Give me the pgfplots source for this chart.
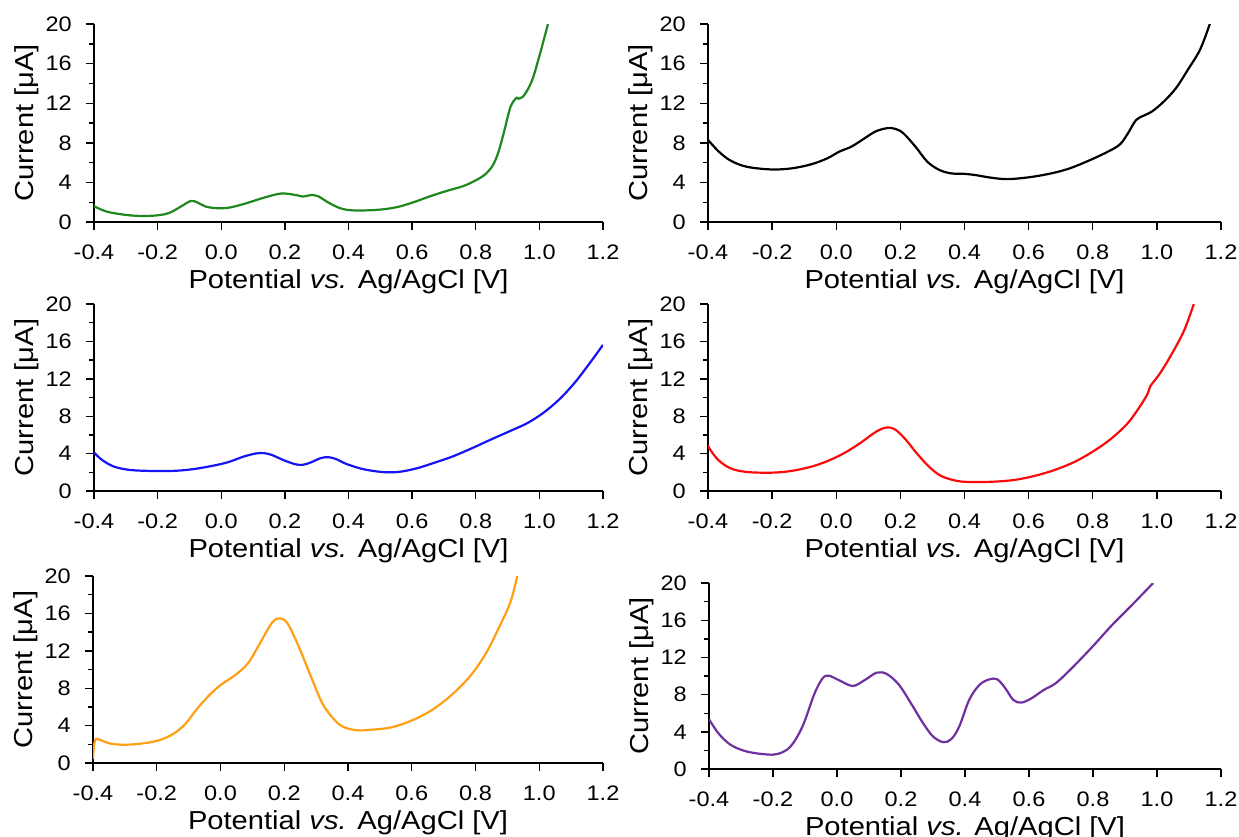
\documentclass[border=0pt]{standalone}
\usepackage{fontspec}
\setmainfont{Liberation Sans}[FakeStretch=1.12]
\usepackage{pgfplots}
\pgfplotsset{compat=1.18}
\definecolor{cgreen}{RGB}{30,135,30}
\definecolor{cblue}{RGB}{20,20,245}
\definecolor{cred}{RGB}{250,10,10}
\definecolor{corange}{RGB}{255,160,20}
\definecolor{cpurple}{RGB}{112,48,160}
\pgfplotsset{
  cv/.style={
    scale only axis,
    axis lines*=left,
    xmin=-0.4, xmax=1.2, ymin=0, ymax=20,
    xtick={-0.4,-0.2,0,0.2,0.4,0.6,0.8,1.0,1.2},
    xticklabels={-0.4,-0.2,0.0,0.2,0.4,0.6,0.8,1.0,1.2},
    ytick={0,4,8,12,16,20},
    yticklabels={0,4,8,12,16,20},
    minor y tick num=1,
    tick align=outside,
    major tick length=8pt,
    minor tick length=5pt,
    xtick style={draw=black, line width=1.4pt},
    ytick style={draw=black, line width=1.4pt},
    minor tick style={draw=black, line width=1.2pt},
    axis line style={line width=1.6pt},
    tick label style={font=\fontsize{21}{22}\selectfont},
    xticklabel style={inner sep=0pt, anchor=north, yshift=-15pt},
    yticklabel style={inner sep=0pt, anchor=east, xshift=-14pt},
    label style={font=\fontsize{26}{28}\selectfont},
    xlabel={Potential \textit{vs.} Ag/AgCl [V]},
    ylabel={Current [μA]},
    x label style={at={(axis description cs:0.5,0)}, anchor=center, yshift=-60pt},
    y label style={at={(axis description cs:0,0.5)}, anchor=center, rotate=0, yshift=67pt},
  },
  cl/.style={line width=2.2pt, smooth, tension=0.55, no marks},
}
\begin{document}
\begin{tikzpicture}
\useasboundingbox (0,0) rectangle (1239pt,-836pt);
% Row 1 left (green)
\begin{axis}[cv, at={(94pt,-222pt)}, anchor=south west, width=509pt, height=198pt]
\addplot[cl, cgreen] coordinates {
(-0.4,1.6) (-0.36,1.05) (-0.298,0.71) (-0.248,0.61) (-0.198,0.68) (-0.161,0.95)
(-0.124,1.62) (-0.095,2.13) (-0.074,1.96) (-0.049,1.56) (-0.012,1.39) (0.026,1.46)
(0.075,1.86) (0.125,2.37) (0.175,2.81) (0.2,2.88) (0.237,2.71) (0.256,2.57)
(0.287,2.74) (0.305,2.6) (0.337,1.96) (0.374,1.39) (0.411,1.18) (0.461,1.18)
(0.511,1.29) (0.56,1.56) (0.61,2.06) (0.66,2.64) (0.71,3.15) (0.76,3.62)
(0.797,4.16) (0.828,4.77) (0.853,5.69) (0.871,7.04) (0.89,9.24) (0.909,11.6)
(0.928,12.55) (0.934,12.45) (0.952,12.8) (0.977,14.3) (1.002,17.0) (1.027,20.0)
};
\end{axis}
% Row 1 right (black)
\begin{axis}[cv, at={(708pt,-222pt)}, anchor=south west, width=513pt, height=198pt]
\addplot[cl, black] coordinates {
(-0.4,8.29) (-0.366,7.1) (-0.329,6.19) (-0.279,5.58) (-0.204,5.31) (-0.141,5.41)
(-0.079,5.82) (-0.028,6.43) (0.009,7.1) (0.047,7.61) (0.084,8.36) (0.122,9.14)
(0.159,9.48) (0.184,9.41) (0.209,8.97) (0.247,7.61) (0.284,6.09) (0.322,5.25)
(0.359,4.91) (0.397,4.87) (0.434,4.74) (0.484,4.47) (0.534,4.33) (0.597,4.5)
(0.66,4.84) (0.722,5.35) (0.785,6.16) (0.847,7.1) (0.885,7.85) (0.91,8.97)
(0.935,10.3) (0.96,10.76) (0.985,11.17) (1.022,12.18) (1.06,13.54) (1.097,15.4)
(1.135,17.43) (1.165,20)
};
\end{axis}
% Row 2 left (blue)
\begin{axis}[cv, at={(94pt,-491pt)}, anchor=south west, width=509pt, height=187pt]
\addplot[cl, cblue] coordinates {
(-0.4,4.12) (-0.375,3.33) (-0.338,2.62) (-0.289,2.26) (-0.227,2.15) (-0.152,2.15)
(-0.09,2.33) (-0.028,2.69) (0.021,3.08) (0.071,3.69) (0.108,4.01) (0.133,4.05)
(0.158,3.87) (0.194,3.33) (0.232,2.87) (0.256,2.8) (0.281,3.05) (0.312,3.51)
(0.337,3.62) (0.362,3.4) (0.393,2.9) (0.442,2.37) (0.492,2.08) (0.529,2.0)
(0.566,2.08) (0.616,2.44) (0.665,2.97) (0.727,3.69) (0.789,4.59) (0.851,5.56)
(0.913,6.49) (0.963,7.28) (1.012,8.35) (1.062,9.78) (1.111,11.58) (1.161,13.8)
(1.2,15.63)
};
\end{axis}
% Row 2 right (red)
\begin{axis}[cv, at={(708pt,-491pt)}, anchor=south west, width=513pt, height=187pt]
\addplot[cl, cred] coordinates {
(-0.4,4.93) (-0.396,4.57) (-0.368,3.32) (-0.33,2.43) (-0.28,2.04) (-0.204,1.96)
(-0.141,2.14) (-0.077,2.61) (-0.027,3.21) (0.024,4.04) (0.074,5.11) (0.125,6.36)
(0.157,6.79) (0.182,6.61) (0.213,5.64) (0.251,4.04) (0.289,2.61) (0.327,1.61)
(0.378,1.07) (0.428,0.96) (0.492,1.0) (0.555,1.18) (0.618,1.61) (0.681,2.25)
(0.745,3.14) (0.808,4.39) (0.859,5.64) (0.909,7.25) (0.947,9.04) (0.972,10.46)
(0.979,11.18) (1.01,12.6) (1.048,14.75) (1.086,17.25) (1.115,20)
};
\end{axis}
% Row 3 left (orange)
\begin{axis}[cv, at={(93pt,-763pt)}, anchor=south west, width=510pt, height=187pt]
\addplot[cl, corange] coordinates {
(-0.4,0.43) (-0.397,1.85) (-0.391,2.56) (-0.379,2.49) (-0.348,2.1) (-0.31,1.96)
(-0.261,2.03) (-0.198,2.38) (-0.149,3.1) (-0.111,4.16) (-0.074,5.77) (-0.037,7.19)
(0.0,8.33) (0.05,9.5) (0.088,10.75) (0.125,12.88) (0.162,15.02) (0.187,15.48)
(0.212,14.84) (0.249,12.17) (0.287,8.97) (0.324,6.12) (0.374,4.09) (0.424,3.52)
(0.473,3.56) (0.536,3.81) (0.598,4.52) (0.66,5.59) (0.722,7.19) (0.784,9.32)
(0.834,11.81) (0.871,14.31) (0.909,17.15) (0.931,20)
};
\end{axis}
% Row 3 right (purple)
\begin{axis}[cv, at={(709pt,-769pt)}, anchor=south west, width=512pt, height=186pt]
\addplot[cl, cpurple] coordinates {
(-0.4,5.36) (-0.371,3.86) (-0.333,2.61) (-0.283,1.89) (-0.221,1.57) (-0.183,1.64)
(-0.145,2.43) (-0.108,4.57) (-0.07,8.14) (-0.045,9.75) (-0.026,10.04) (0.005,9.57)
(0.049,8.93) (0.087,9.57) (0.124,10.36) (0.156,10.21) (0.194,9.04) (0.231,7.07)
(0.269,4.93) (0.3,3.5) (0.332,2.89) (0.357,3.21) (0.382,4.57) (0.413,7.43)
(0.445,9.04) (0.476,9.64) (0.501,9.64) (0.526,8.68) (0.551,7.43) (0.576,7.14)
(0.608,7.61) (0.646,8.5) (0.683,9.21) (0.733,10.82) (0.796,13.07) (0.859,15.46)
(0.921,17.61) (0.988,20)
};
\end{axis}
\end{tikzpicture}
\end{document}
